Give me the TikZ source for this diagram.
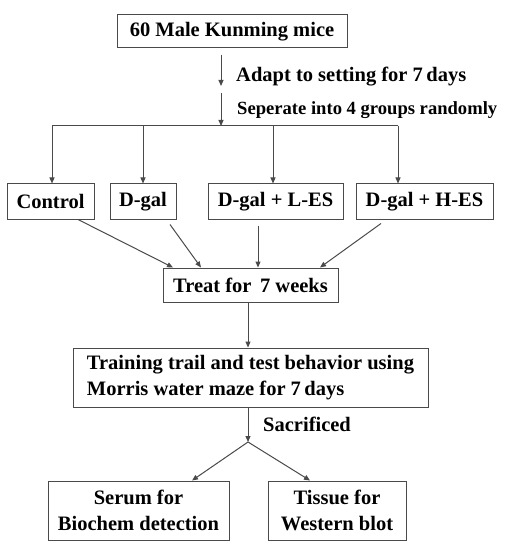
\documentclass[tikz,border=0pt]{standalone}
\usepackage{fontspec}
\setmainfont{Liberation Serif}
\usetikzlibrary{arrows.meta}
\definecolor{lc}{HTML}{4A4A4A}
\begin{document}
\begin{tikzpicture}[x=1pt,y=-1pt,
  box/.style={draw=lc,line width=1pt,minimum height=#1,inner sep=0pt,font=\fontsize{20.5}{24}\selectfont\bfseries},
  box/.default=34pt,
  arr/.style={draw=lc,line width=1pt,-{Triangle[length=6pt,width=5pt]}},
  ln/.style={draw=lc,line width=1pt},
  lbl/.style={anchor=west,inner sep=0pt,font=\fontsize{20.5}{24}\selectfont\bfseries}]
\useasboundingbox (0,0) rectangle (521,545);
\node[box=33pt,minimum width=230pt] (top) at (232,31.5) {60 Male Kunming mice};
\coordinate (a1s) at (221,55);
\coordinate (a1e) at (221,86);
\coordinate (a2s) at (221,93);
\coordinate (sp) at (221,126);
\coordinate (sl) at (52,126);
\coordinate (sr) at (398,126);
\coordinate (s2) at (143,126);
\coordinate (s3) at (273,126);
\node[lbl] (adapt) at (236,77) {Adapt to setting for 7\,days};
\node[lbl,font=\fontsize{18.6}{20}\selectfont\bfseries] (sep) at (237,110) {Seperate into 4 groups randomly};
\node[box=35pt,minimum width=87pt] (ctrl) at (50.5,201.5) {Control};
\node[box=35pt,minimum width=66pt] (dgal) at (143,201.5) {D-gal};
\node[box=35pt,minimum width=135pt] (les) at (275.5,201.5) {D-gal + L-ES};
\node[box=35pt,minimum width=137pt] (hes) at (424.5,201.5) {D-gal + H-ES};
\node[box=34pt,minimum width=175pt] (treat) at (250.5,285) {Treat for\ \,7 weeks};
\node[box=59pt,minimum width=355pt,align=left,font=\fontsize{20.5}{26}\selectfont\bfseries] (train) at (250.5,377.5) {Training trail and test behavior using\\Morris water maze for 7\,days};
\coordinate (sp2) at (248,442);
\node[lbl] (sac) at (263,424) {Sacrificed};
\node[box=59pt,minimum width=181pt,align=center,font=\fontsize{20.5}{26}\selectfont\bfseries] (serum) at (138.5,510.5) {Serum for\\Biochem detection};
\node[box=59pt,minimum width=138pt,align=center,font=\fontsize{20.5}{26}\selectfont\bfseries] (tissue) at (337,510.5) {Tissue for\\Western blot};
\draw[arr] (a1s) -- (a1e);
\draw[arr] (a2s) -- (sp);
\draw[ln] (sl) -- (sr);
\draw[arr] (sl) -- (sl |- ctrl.north);
\draw[arr] (s2) -- (s2 |- dgal.north);
\draw[arr] (s3) -- (s3 |- les.north);
\draw[arr] (sr) -- (sr |- hes.north);
\draw[arr] ([xshift=27.5pt]ctrl.south) -- ([xshift=-77.5pt]treat.north);
\draw[arr] ([xshift=27pt,yshift=-5pt]dgal.south) -- ([xshift=-49.5pt]treat.north);
\draw[arr] ([xshift=-17.5pt,yshift=-6pt]les.south) -- ([xshift=7.5pt]treat.north);
\draw[arr] ([xshift=-43.5pt,yshift=-4pt]hes.south) -- ([xshift=69.5pt]treat.north);
\draw[arr] ([xshift=-2.5pt]treat.south) -- ([xshift=-2.5pt]train.north);
\draw[arr] ([xshift=-2.5pt]train.south) -- (sp2);
\draw[arr] (sp2) -- ([xshift=53.5pt]serum.north);
\draw[arr] (sp2) -- ([xshift=-27pt]tissue.north);
\end{tikzpicture}
\end{document}
